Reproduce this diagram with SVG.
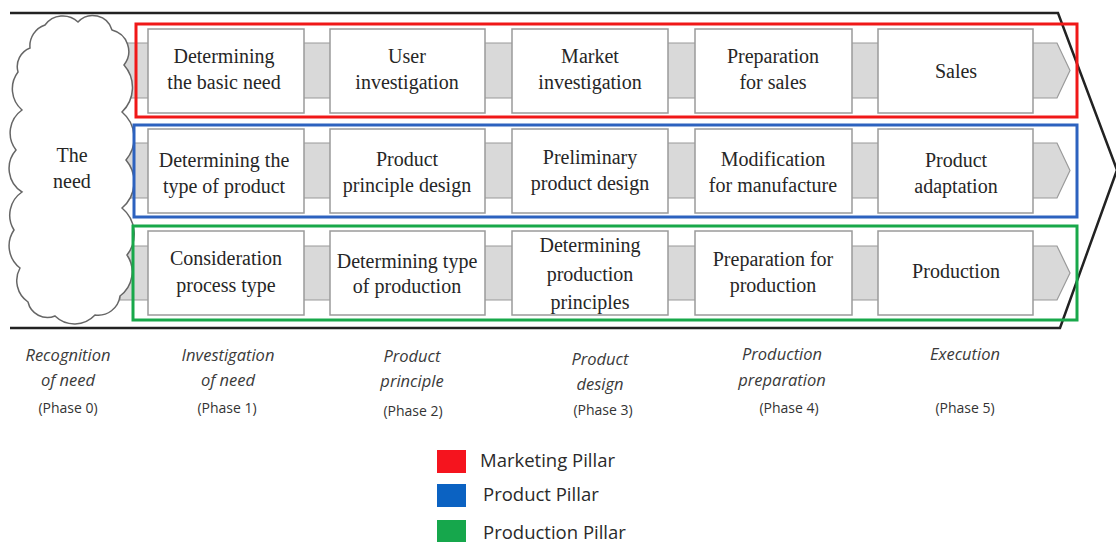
<svg xmlns="http://www.w3.org/2000/svg" width="1116" height="542" viewBox="0 0 1116 542">
<style>
.chev{fill:none;stroke:#222;stroke-width:2.5}
.bar{fill:#d9d9d9;stroke:#9a9a9a;stroke-width:1.2}
.box{fill:#fff;stroke:#9a9a9a;stroke-width:1.5}
.t{font-family:"Liberation Serif",serif;font-size:20px;fill:#262626;text-anchor:middle}
.ph{font-family:"Open Sans","Liberation Sans",sans-serif;font-style:italic;font-size:16.5px;fill:#3a3a3a;text-anchor:middle}
.pn{font-family:"Open Sans","Liberation Sans",sans-serif;font-size:14px;fill:#333;text-anchor:middle}
.lg{font-family:"Open Sans","Liberation Sans",sans-serif;font-size:18.5px;fill:#2a2a2a}
.cloud{fill:#fff;stroke:#666;stroke-width:1.5}
</style>
<rect width="1116" height="542" fill="#fff"/>
<g id="connectors">
<path class="chev" d="M10,13 H1058 L1117,170 L1060,328 H10"/>
<path class="bar" d="M120,43 H1057 L1070,70.5 L1057,98 H120 Z"/>
<path class="bar" d="M120,143 H1057 L1070,170.5 L1057,198 H120 Z"/>
<path class="bar" d="M120,246 H1057 L1070,273 L1057,300 H120 Z"/>
</g>
<g id="cloud">
<path class="cloud" d="M30,48 A22,22 0 0 1 45,25 A22,22 0 0 1 78,22 A20,20 0 0 1 112,30 A22,22 0 0 1 124,65 A34,34 0 0 1 122,112 A34,34 0 0 1 126,160 A34,34 0 0 1 122,208 A34,34 0 0 1 127,255 A30,30 0 0 1 120,296 A22,22 0 0 1 95,315 A28,28 0 0 1 55,316 A20,20 0 0 1 28,302 A26,26 0 0 1 20,268 A28,28 0 0 1 14,230 A28,28 0 0 1 22,192 A28,28 0 0 1 16,150 A28,28 0 0 1 22,110 A28,28 0 0 1 18,72 A20,20 0 0 1 30,48 Z"/>
<text class="t" x="72" y="162">The</text>
<text class="t" x="72" y="188">need</text>
</g>
<g id="pillar-marketing"><rect x="136" y="24" width="941" height="93" fill="none" stroke="#f01818" stroke-width="3"/></g>
<g id="pillar-product"><rect x="134" y="125" width="943" height="92" fill="none" stroke="#2d62bf" stroke-width="3"/></g>
<g id="pillar-production"><rect x="133" y="226" width="944" height="94" fill="none" stroke="#18a84a" stroke-width="3"/></g>
<g id="n11"><rect class="box" x="148" y="29" width="156" height="84"/><text class="t" x="224" y="63">Determining</text><text class="t" x="224" y="89">the basic need</text></g>
<g id="n12"><rect class="box" x="330" y="29" width="155" height="84"/><text class="t" x="407" y="63">User</text><text class="t" x="407" y="89">investigation</text></g>
<g id="n13"><rect class="box" x="512" y="29" width="156" height="84"/><text class="t" x="590" y="63">Market</text><text class="t" x="590" y="89">investigation</text></g>
<g id="n14"><rect class="box" x="695" y="29" width="157" height="84"/><text class="t" x="773" y="63">Preparation</text><text class="t" x="773" y="89">for sales</text></g>
<g id="n15"><rect class="box" x="878" y="29" width="155" height="84"/><text class="t" x="956" y="78">Sales</text></g>
<g id="n21"><rect class="box" x="148" y="129" width="156" height="84"/><text class="t" x="224" y="167">Determining the</text><text class="t" x="224" y="193">type of product</text></g>
<g id="n22"><rect class="box" x="330" y="129" width="155" height="84"/><text class="t" x="407" y="166">Product</text><text class="t" x="407" y="192">principle design</text></g>
<g id="n23"><rect class="box" x="512" y="129" width="156" height="84"/><text class="t" x="590" y="164">Preliminary</text><text class="t" x="590" y="190">product design</text></g>
<g id="n24"><rect class="box" x="695" y="129" width="157" height="84"/><text class="t" x="773" y="166">Modification</text><text class="t" x="773" y="192">for manufacture</text></g>
<g id="n25"><rect class="box" x="878" y="129" width="155" height="84"/><text class="t" x="956" y="167">Product</text><text class="t" x="956" y="193">adaptation</text></g>
<g id="n31"><rect class="box" x="148" y="231" width="156" height="84"/><text class="t" x="226" y="265">Consideration</text><text class="t" x="226" y="292">process type</text></g>
<g id="n32"><rect class="box" x="330" y="231" width="155" height="84"/><text class="t" x="407" y="268">Determining type</text><text class="t" x="407" y="293">of production</text></g>
<g id="n33"><rect class="box" x="512" y="231" width="156" height="84"/><text class="t" x="590" y="252">Determining</text><text class="t" x="590" y="281">production</text><text class="t" x="590" y="309">principles</text></g>
<g id="n34"><rect class="box" x="695" y="231" width="157" height="84"/><text class="t" x="773" y="266">Preparation for</text><text class="t" x="773" y="292">production</text></g>
<g id="n35"><rect class="box" x="878" y="231" width="155" height="84"/><text class="t" x="956" y="278">Production</text></g>
<g id="phases">
<text class="ph" x="68" y="361">Recognition</text><text class="ph" x="68" y="386">of need</text><text class="pn" x="68" y="413">(Phase 0)</text>
<text class="ph" x="228" y="361">Investigation</text><text class="ph" x="228" y="386">of need</text><text class="pn" x="227" y="413">(Phase 1)</text>
<text class="ph" x="412" y="362">Product</text><text class="ph" x="412" y="387">principle</text><text class="pn" x="413" y="416">(Phase 2)</text>
<text class="ph" x="600" y="365">Product</text><text class="ph" x="600" y="390">design</text><text class="pn" x="603" y="415">(Phase 3)</text>
<text class="ph" x="782" y="360">Production</text><text class="ph" x="782" y="386">preparation</text><text class="pn" x="789" y="413">(Phase 4)</text>
<text class="ph" x="965" y="360">Execution</text><text class="pn" x="965" y="413">(Phase 5)</text>
</g>
<g id="legend">
<rect x="437" y="450" width="29" height="23" fill="#f5141e"/>
<rect x="437" y="484" width="29" height="23" fill="#0b62c2"/>
<rect x="437" y="520" width="29" height="22" fill="#16a74c"/>
<text class="lg" x="480" y="467">Marketing Pillar</text>
<text class="lg" x="483" y="501">Product Pillar</text>
<text class="lg" x="483" y="539">Production Pillar</text>
</g>
</svg>
